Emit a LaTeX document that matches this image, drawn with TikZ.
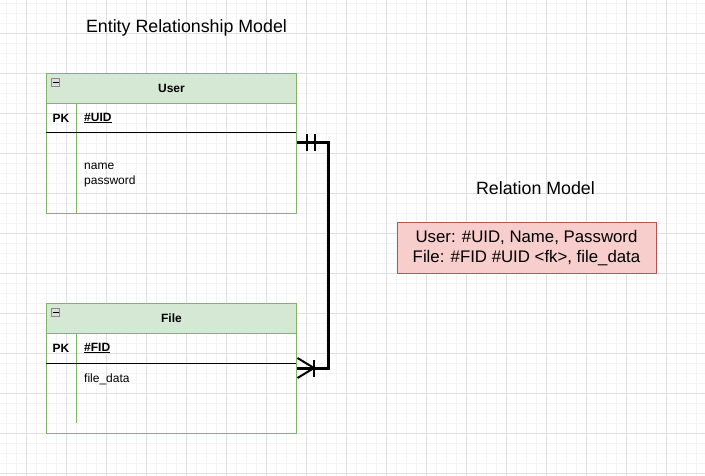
\documentclass[tikz,border=0pt]{standalone}
\usepackage{fontspec}
\setmainfont{Liberation Sans}
\definecolor{minorc}{HTML}{F4F4F4}
\definecolor{majorc}{HTML}{E0E0E0}
\definecolor{grfill}{HTML}{D5E8D4}
\definecolor{grline}{HTML}{82B366}
\definecolor{rdfill}{HTML}{F8CECC}
\definecolor{rdline}{HTML}{B85450}
\definecolor{icofill}{HTML}{DDDDDD}
\definecolor{icoline}{HTML}{8A8A8A}
\tikzset{
  hdr/.style={draw=grline, fill=grfill, line width=1pt, inner sep=0pt, anchor=north west,
    minimum width=250pt, minimum height=30pt, font=\fontsize{12}{14}\selectfont\bfseries},
  tbody/.style={draw=grline, line width=1pt, inner sep=0pt, anchor=north west, minimum width=250pt},
  lbl/.style={inner sep=0pt, font=\fontsize{12}{14}\selectfont},
  blbl/.style={inner sep=0pt, font=\fontsize{12}{14}\selectfont\bfseries},
  title/.style={inner sep=0pt, font=\fontsize{17.8}{21}\selectfont},
  relbox/.style={draw=rdline, fill=rdfill, line width=1pt, inner sep=0pt, align=center,
    minimum width=259pt, minimum height=50pt, font=\fontsize{16.8}{20}\selectfont},
  icon/.style={draw=icoline, fill=icofill, line width=0.8pt, inner sep=0pt, minimum size=8pt},
  divline/.style={draw=grline, line width=1pt},
  keyline/.style={draw=black, line width=1pt},
  rel/.style={draw=black, line width=3pt},
  tip/.style={draw=black, line width=2pt}
}
\begin{document}
\begin{tikzpicture}[x=1pt,y=-1pt]
\useasboundingbox (0,0) rectangle (705,476);
% grid
\foreach \gx in {6.7,16.7,...,705} \draw[minorc, line width=1pt] (\gx,0) -- (\gx,476);
\foreach \gy in {3.3,13.3,...,476} \draw[minorc, line width=1pt] (0,\gy) -- (705,\gy);
\foreach \gx in {26.7,66.7,...,705} \draw[majorc, line width=1pt] (\gx,0) -- (\gx,476);
\foreach \gy in {33.3,73.3,...,476} \draw[majorc, line width=1pt] (0,\gy) -- (705,\gy);

% titles
\node[title] (ertitle) at (186.5,28) {Entity Relationship Model};
\node[title] (rmtitle) at (535.5,188) {Relation Model};

% User table
\node[hdr] (userhead) at (46,73) {User};
\node[tbody, minimum height=110pt] (userbody) at (46,103) {};
\node[icon] (uicon) at (55.5,82.5) {};
\draw[black, line width=1pt] (52.5,82.5) -- (58.5,82.5);
\draw[divline] (76,103) -- (76,213);
\draw[keyline] (46,133) -- (296,133);
\node[blbl] (upk) at (61,118) {PK};
\node[blbl, anchor=west] (uuid) at (84,118) {\underline{\#UID}};
\node[lbl, anchor=west] (uname) at (84,166) {name};
\node[lbl, anchor=west] (upass) at (84,181) {password};

% File table
\node[hdr] (filehead) at (46,303) {File};
\node[tbody, minimum height=100pt] (filebody) at (46,333) {};
\node[icon] (ficon) at (55.5,312.5) {};
\draw[black, line width=1pt] (52.5,312.5) -- (58.5,312.5);
\draw[divline] (76,333) -- (76,423);
\draw[keyline] (46,363) -- (296,363);
\node[blbl] (fpk) at (61,348) {PK};
\node[blbl, anchor=west] (ffid) at (84,348) {\underline{\#FID}};
\node[lbl, anchor=west] (fdata) at (84,379) {file\_data};

% relationship connector
\coordinate (ua) at (userbody.east |- 0,143);
\coordinate (fa) at (filebody.east |- 0,368);
\draw[rel, line join=miter] (ua) -- ++(31,0) |- (fa);
% one-and-only-one end
\draw[tip] ([xshift=10pt]ua) ++(0,-8.5) -- ++(0,17);
\draw[tip] ([xshift=18pt]ua) ++(0,-8.5) -- ++(0,17);
% many end (crow's foot)
\draw[tip] ([xshift=0.5pt,yshift=-10pt]fa) -- ([xshift=17pt]fa) -- ([xshift=0.5pt,yshift=10pt]fa);
\draw[tip] ([xshift=17pt,yshift=-8.5pt]fa) -- ([xshift=17pt,yshift=8.5pt]fa);

% relation model
\node[relbox] (relm) at (526.5,248) {User: \#UID, Name, Password\\File: \#FID \#UID <fk>, file\_data};
\end{tikzpicture}
\end{document}
